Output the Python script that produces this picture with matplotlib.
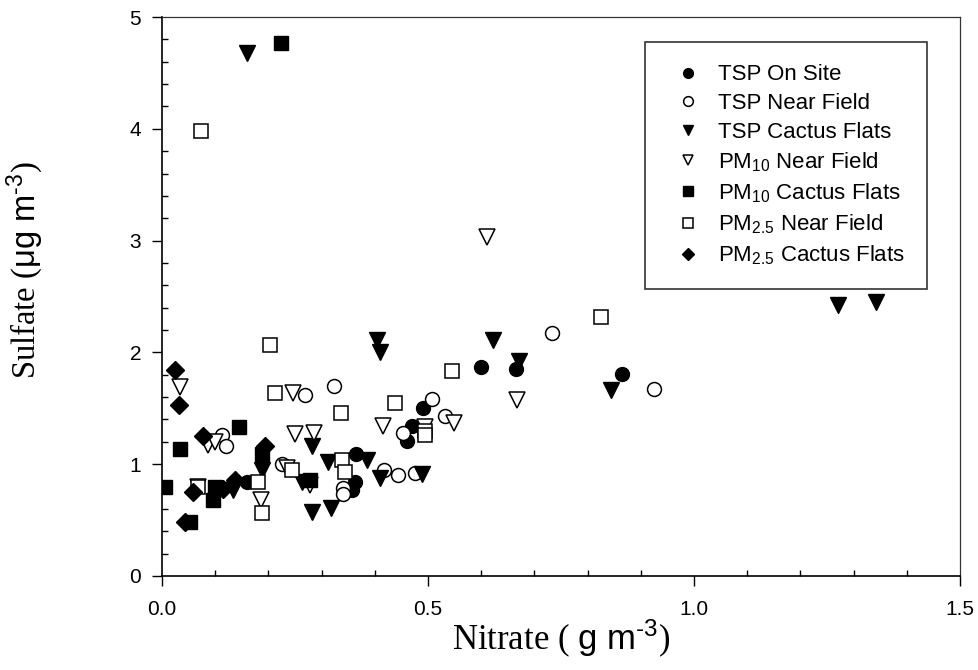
import numpy as np
import matplotlib.pyplot as plt
from matplotlib.ticker import MultipleLocator, FormatStrFormatter

plt.rcParams['font.family'] = 'Liberation Sans'
plt.rcParams['mathtext.fontset'] = 'custom'
plt.rcParams['mathtext.rm'] = 'Liberation Sans'
plt.rcParams['mathtext.sf'] = 'Liberation Sans'
plt.rcParams['mathtext.it'] = 'Liberation Sans:italic'

# TSP On Site
tsp_site_x = [0.16, 0.357, 0.363, 0.364, 0.46, 0.47, 0.49, 0.60, 0.665, 0.865]
tsp_site_y = [0.84, 0.77, 0.84, 1.09, 1.21, 1.34, 1.50, 1.87, 1.85, 1.81]

# TSP Near Field
tsp_near_x = [0.113, 0.12, 0.226, 0.269, 0.323, 0.34, 0.34, 0.417, 0.444, 0.453,
              0.476, 0.507, 0.532, 0.733, 0.925]
tsp_near_y = [1.26, 1.16, 1.00, 1.62, 1.70, 0.79, 0.73, 0.95, 0.90, 1.28,
              0.92, 1.58, 1.43, 2.17, 1.67]

# TSP Cactus Flats
tsp_cactus_x = [0.16, 0.134, 0.188, 0.263, 0.282, 0.282, 0.312, 0.318, 0.385,
                0.404, 0.41, 0.41, 0.488, 0.622, 0.671, 0.844, 1.27, 1.342]
tsp_cactus_y = [4.68, 0.77, 0.95, 0.84, 1.16, 0.57, 1.02, 0.61, 1.04,
                2.11, 2.00, 0.88, 0.91, 2.11, 1.92, 1.66, 2.42, 2.45]

# PM10 Near Field
pm10_near_x = [0.034, 0.087, 0.10, 0.068, 0.186, 0.235, 0.247, 0.25, 0.286,
               0.278, 0.415, 0.495, 0.548, 0.611, 0.668]
pm10_near_y = [1.69, 1.17, 1.20, 0.80, 0.68, 0.97, 1.64, 1.27, 1.28,
               0.81, 1.34, 1.33, 1.37, 3.03, 1.57]

# PM10 Cactus Flats
pm10_cactus_x = [0.006, 0.034, 0.053, 0.096, 0.10, 0.145, 0.188, 0.224, 0.278]
pm10_cactus_y = [0.80, 1.14, 0.48, 0.68, 0.80, 1.33, 1.09, 4.77, 0.86]

# PM2.5 Near Field
pm25_near_x = [0.073, 0.068, 0.18, 0.188, 0.203, 0.212, 0.244, 0.336, 0.338,
               0.344, 0.438, 0.494, 0.494, 0.545, 0.826]
pm25_near_y = [3.98, 0.80, 0.84, 0.56, 2.07, 1.64, 0.95, 1.46, 1.04,
               0.93, 1.55, 1.30, 1.26, 1.83, 2.32]

# PM2.5 Cactus Flats
pm25_cactus_x = [0.024, 0.032, 0.077, 0.194, 0.058, 0.137, 0.043, 0.115]
pm25_cactus_y = [1.84, 1.53, 1.25, 1.16, 0.75, 0.86, 0.48, 0.78]

fig = plt.figure(figsize=(9.79, 6.70), dpi=100)
ax = fig.add_axes([0.1655, 0.1403, 0.815, 0.8343])

ew = 1.1
ax.plot(tsp_site_x, tsp_site_y, 'o', ms=10, mfc='black', mec='black', label='TSP On Site')
ax.plot(tsp_near_x, tsp_near_y, 'o', ms=10, mfc='white', mec='black', mew=ew, label='TSP Near Field')
ax.plot(tsp_cactus_x, tsp_cactus_y, 'v', ms=11, mfc='black', mec='black', label='TSP Cactus Flats')
ax.plot(pm10_near_x, pm10_near_y, 'v', ms=11, mfc='white', mec='black', mew=ew, label='PM$_{10}$ Near Field')
ax.plot(pm10_cactus_x, pm10_cactus_y, 's', ms=9.5, mfc='black', mec='black', label='PM$_{10}$ Cactus Flats')
ax.plot(pm25_near_x, pm25_near_y, 's', ms=9.5, mfc='white', mec='black', mew=ew, label='PM$_{2.5}$ Near Field')
ax.plot(pm25_cactus_x, pm25_cactus_y, 'D', ms=9, mfc='black', mec='black', label='PM$_{2.5}$ Cactus Flats')

ax.set_xlim(0, 1.5)
ax.set_ylim(0, 5)
ax.xaxis.set_major_locator(MultipleLocator(0.5))
ax.xaxis.set_minor_locator(MultipleLocator(0.1))
ax.xaxis.set_major_formatter(FormatStrFormatter('%.1f'))
ax.yaxis.set_major_locator(MultipleLocator(1))
ax.yaxis.set_minor_locator(MultipleLocator(0.2))
ax.tick_params(which='major', direction='out', length=7, width=1, labelsize=15)
ax.tick_params(axis='x', which='major', pad=10)
ax.tick_params(axis='y', which='major', pad=8)
ax.tick_params(which='minor', direction='in', length=4, width=1)

for s in ['left', 'bottom']:
    ax.spines[s].set_linewidth(1.2)
for s in ['top', 'right']:
    ax.spines[s].set_linewidth(0.9)
    ax.spines[s].set_color('#333333')

ax.set_xlabel(r'Nitrate ( $\mathsf{g\ m}^{\text{-3}}$)', family='Liberation Serif', fontsize=25, labelpad=-1)
ax.set_ylabel(r'Sulfate ($\mathsf{\mu g\ m}^{\text{-3}}$)', family='Liberation Serif', fontsize=23.5)
ax.yaxis.set_label_coords(-0.147, 0.547)

leg = ax.legend(loc='upper left', bbox_to_anchor=(0.605, 0.955), borderaxespad=0,
                fontsize=16, markerscale=0.7, frameon=True, fancybox=False,
                edgecolor='black', labelspacing=0.34, handletextpad=0.4,
                borderpad=1.0, handlelength=1.9)
leg.get_frame().set_linewidth(1.2)

fig.savefig('out.png', dpi=100)
